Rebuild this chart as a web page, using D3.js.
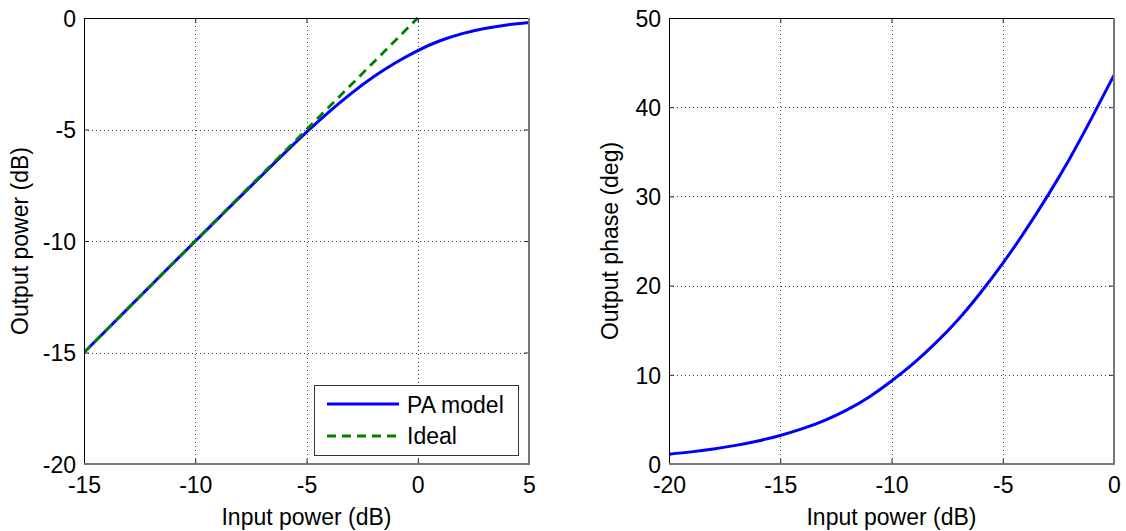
<!DOCTYPE html>
<html>
<head>
<meta charset="utf-8">
<script src="https://cdn.jsdelivr.net/npm/d3@7"></script>
<style>
  body { margin: 0; background: #fff; }
  text { font-family: "Liberation Sans", Arial, Helvetica, sans-serif; }
</style>
</head>
<body>
<svg id="fig" width="1126" height="531"></svg>
<script>
// AM/AM characteristic of the power amplifier model
const inputDb  = [-15, -14, -13, -12, -11, -10, -9, -8, -7, -6, -5, -4, -3, -2, -1, 0, 1, 2, 3, 4, 5];
const outputDb = [-15.0, -14.0, -13.0, -12.0, -11.0, -10.01, -9.02, -8.03, -7.05, -6.07, -5.12, -4.22, -3.39, -2.65, -2.01, -1.46, -1.02, -0.70, -0.47, -0.31, -0.20];

// Ideal linear response
const idealIn  = [-15, 0];
const idealOut = [-15, 0];

// AM/PM characteristic
const phaseIn  = [-20, -19, -18, -17, -16, -15, -14, -13, -12, -11, -10, -9, -8, -7, -6, -5, -4, -3, -2, -1, 0];
const phaseDeg = [1.1, 1.36, 1.69, 2.09, 2.58, 3.2, 3.96, 4.9, 6.07, 7.52, 9.3, 11.3, 13.6, 16.2, 19.2, 22.5, 26.1, 30.0, 34.2, 38.8, 43.6];

// Tick values
const ampXTicks   = [-15, -10, -5, 0, 5];
const ampYTicks   = [-20, -15, -10, -5, 0];
const phaseXTicks = [-20, -15, -10, -5, 0];
const phaseYTicks = [0, 10, 20, 30, 40, 50];

const legendNames = ["PA model", "Ideal"];

const FONT = 23;
const svg = d3.select("#fig");
const plain = d => String(d);   // ASCII hyphen-minus labels

function panel(opts) {
  const { left, right, top, bottom, xDomain, yDomain, xTicks, yTicks, xLabel, yLabel, yLabelX } = opts;
  const x = d3.scaleLinear().domain(xDomain).range([left, right]);
  const y = d3.scaleLinear().domain(yDomain).range([bottom, top]);
  const g = svg.append("g");

  // white axes background
  g.append("rect").attr("x", left).attr("y", top)
    .attr("width", right - left).attr("height", bottom - top).attr("fill", "#fff");

  // dotted grid
  const grid = g.append("g").attr("stroke", "#444").attr("stroke-width", 1)
    .attr("stroke-dasharray", "1,3").attr("shape-rendering", "crispEdges");
  xTicks.forEach(t => {
    grid.append("line").attr("x1", Math.round(x(t)) + 0.5).attr("x2", Math.round(x(t)) + 0.5)
      .attr("y1", top).attr("y2", bottom);
  });
  yTicks.forEach(t => {
    grid.append("line").attr("y1", Math.round(y(t)) + 0.5).attr("y2", Math.round(y(t)) + 0.5)
      .attr("x1", left).attr("x2", right);
  });

  // axes with inward ticks on all four sides
  const styleAxis = sel => {
    sel.select(".domain").remove();
    sel.selectAll(".tick line").attr("stroke", "#222");
    sel.selectAll("text").attr("font-size", FONT).attr("fill", "#000")
      .attr("font-family", '"Liberation Sans", Arial, sans-serif');
  };
  g.append("g").attr("transform", `translate(0,${bottom})`)
    .call(d3.axisBottom(x).tickValues(xTicks).tickSize(-5).tickPadding(13).tickFormat(plain))
    .call(styleAxis);
  g.append("g").attr("transform", `translate(0,${top})`)
    .call(d3.axisTop(x).tickValues(xTicks).tickSize(-5).tickFormat(""))
    .call(styleAxis);
  g.append("g").attr("transform", `translate(${left},0)`)
    .call(d3.axisLeft(y).tickValues(yTicks).tickSize(-5).tickPadding(8).tickFormat(plain))
    .call(styleAxis)
    .call(s => s.selectAll("text").attr("dy", "0.36em"));
  g.append("g").attr("transform", `translate(${right},0)`)
    .call(d3.axisRight(y).tickValues(yTicks).tickSize(-5).tickFormat(""))
    .call(styleAxis);

  // axis labels
  g.append("text").attr("x", (left + right) / 2).attr("y", 525)
    .attr("text-anchor", "middle").attr("font-size", FONT).text(xLabel);
  g.append("text").attr("transform", `translate(${yLabelX},${(top + bottom) / 2}) rotate(-90)`)
    .attr("text-anchor", "middle").attr("font-size", FONT).text(yLabel);

  return { g, x, y, left, right, top, bottom };
}

function frame(p) {
  const f = p.g.append("g").attr("fill", "none").attr("shape-rendering", "crispEdges");
  f.append("line").attr("x1", p.left).attr("x2", p.right).attr("y1", p.top + 0.5).attr("y2", p.top + 0.5)
    .attr("stroke", "#000").attr("stroke-width", 1);
  f.append("line").attr("x1", p.left + 0.5).attr("x2", p.left + 0.5).attr("y1", p.top).attr("y2", p.bottom)
    .attr("stroke", "#000").attr("stroke-width", 1);
  f.append("line").attr("x1", p.right).attr("x2", p.right).attr("y1", p.top).attr("y2", p.bottom + 1)
    .attr("stroke", "#777").attr("stroke-width", 2);
  f.append("line").attr("x1", p.left).attr("x2", p.right + 1).attr("y1", p.bottom).attr("y2", p.bottom)
    .attr("stroke", "#777").attr("stroke-width", 2);
}

// ---- Left: output power vs input power ----
const amp = panel({
  left: 84, right: 529, top: 18, bottom: 464,
  xDomain: [-15, 5], yDomain: [-20, 0],
  xTicks: ampXTicks, yTicks: ampYTicks,
  xLabel: "Input power (dB)", yLabel: "Output power (dB)", yLabelX: 28
});

const ampLine = d3.line().curve(d3.curveNatural).x(d => amp.x(d[0])).y(d => amp.y(d[1]));
svg.append("clipPath").attr("id", "clipAmp").append("rect")
  .attr("x", amp.left).attr("y", amp.top - 2).attr("width", amp.right - amp.left).attr("height", amp.bottom - amp.top + 4);

amp.g.append("path").datum(d3.zip(inputDb, outputDb))
  .attr("clip-path", "url(#clipAmp)")
  .attr("d", ampLine).attr("fill", "none").attr("stroke", "#0000ff").attr("stroke-width", 3);
amp.g.append("path").datum(d3.zip(idealIn, idealOut))
  .attr("clip-path", "url(#clipAmp)")
  .attr("d", d3.line().x(d => amp.x(d[0])).y(d => amp.y(d[1])))
  .attr("fill", "none").attr("stroke", "#008000").attr("stroke-width", 2.8).attr("stroke-dasharray", "9,6");
frame(amp);

// legend
const lg = amp.g.append("g");
lg.append("rect").attr("x", 314.5).attr("y", 385.5).attr("width", 204).attr("height", 70)
  .attr("fill", "#fff").attr("stroke", "#333").attr("stroke-width", 1);
const legendStyles = [
  { color: "#0000ff", dash: null, y: 404, base: 413 },
  { color: "#008000", dash: "9,6", y: 436, base: 444 }
];
legendNames.forEach((name, i) => {
  const s = legendStyles[i];
  lg.append("line").attr("x1", 327).attr("x2", 399).attr("y1", s.y).attr("y2", s.y)
    .attr("stroke", s.color).attr("stroke-width", 3).attr("stroke-dasharray", s.dash);
  lg.append("text").attr("x", 407).attr("y", s.base).attr("font-size", FONT).text(name);
});

// ---- Right: output phase vs input power ----
const ph = panel({
  left: 669, right: 1114, top: 18, bottom: 464,
  xDomain: [-20, 0], yDomain: [0, 50],
  xTicks: phaseXTicks, yTicks: phaseYTicks,
  xLabel: "Input power (dB)", yLabel: "Output phase (deg)", yLabelX: 618
});
ph.g.append("path").datum(d3.zip(phaseIn, phaseDeg))
  .attr("d", d3.line().curve(d3.curveNatural).x(d => ph.x(d[0])).y(d => ph.y(d[1])))
  .attr("fill", "none").attr("stroke", "#0000ff").attr("stroke-width", 3);
frame(ph);
</script>
</body>
</html>
